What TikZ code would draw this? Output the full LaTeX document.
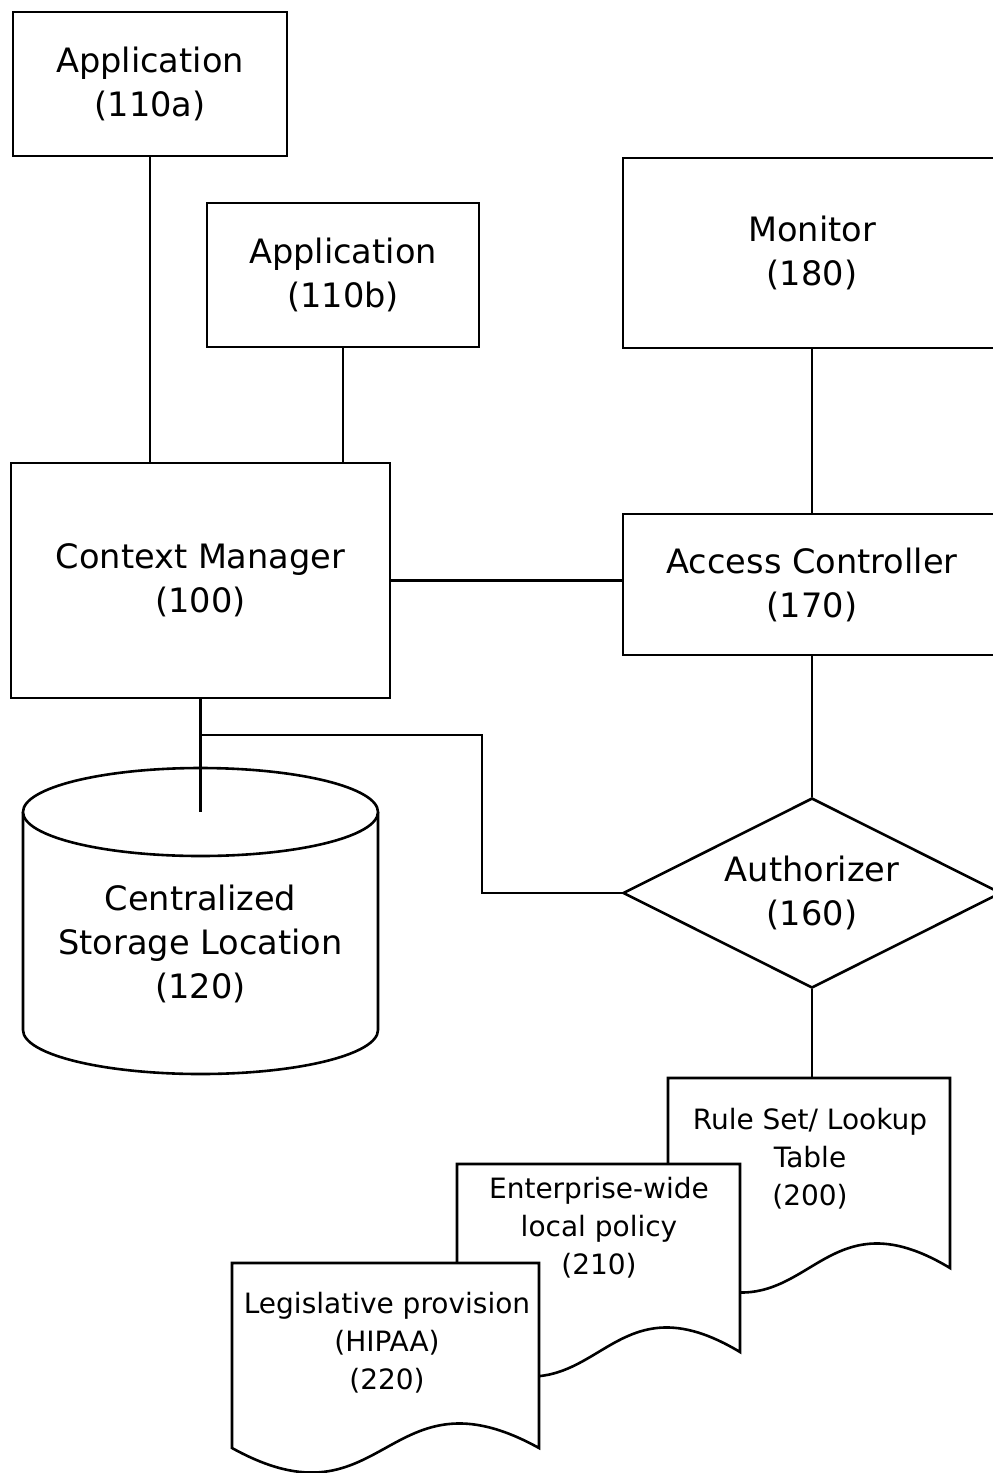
\documentclass[tikz,border=0pt]{standalone}
\usepackage{fontspec}
\setmainfont{DejaVu Sans}
\usetikzlibrary{shapes.geometric}
\newcommand\mybig{\fontsize{33.6}{44}\selectfont}
\newcommand\mysmall{\fontsize{28}{38}\selectfont}
\newcommand\mydoc[4]{\filldraw[fill=white] (#1,#3) -- (#2,#3) -- (#2,#4) .. controls ({(#1+#2)/2},{#4-85}) and ({(#1+#2)/2},{#4+85}) .. (#1,#4) -- cycle;}
\begin{document}
\begin{tikzpicture}[x=1pt,y=-1pt,line width=2.6pt,line join=miter,
  box/.style={draw,fill=white,align=center,inner sep=0pt,font=\mybig},
  doctext/.style={align=center,inner sep=0pt,font=\mysmall},
  plaintext/.style={align=center,inner sep=0pt,font=\mybig}]
\useasboundingbox (0,0) rectangle (993,1473);
\fill[white] (0,0) rectangle (993,1473);
\clip (0,0) rectangle (993,1473);

% boxes
\node[box,minimum width=274,minimum height=144] (a) at (150,84) {Application\\(110a)};
\node[box,minimum width=272,minimum height=144] (b) at (343,275) {Application\\(110b)};
\node[box,minimum width=378,minimum height=190] (mon) at (812,253) {Monitor\\(180)};
\node[box,minimum width=379,minimum height=235] (cm) at (200.5,580.5) {Context Manager\\(100)};
\node[box,minimum width=378,minimum height=141] (ac) at (812,584.5) {Access Controller\\(170)};
\node[box,shape=diamond,aspect=2,minimum width=378,minimum height=190] (auth) at (812,893) {Authorizer\\(160)};

% cylinder
\filldraw[fill=white] (23,812) -- (23,1030) arc[start angle=180,end angle=360,x radius=177.5pt,y radius=44pt] -- (378,812);
\draw[fill=white] (200.5,812) ellipse[x radius=177.5pt,y radius=44pt];
\node[plaintext] (store) at (200.5,944) {Centralized\\Storage Location\\(120)};

% documents
\mydoc{668}{950}{1078}{1268}
\node[doctext] (t200) at (810,1159) {Rule Set/ Lookup\\Table\\(200)};
\mydoc{457}{740}{1164}{1352}
\node[doctext] (t210) at (599,1228) {Enterprise-wide\\local policy\\(210)};
\mydoc{232}{539}{1263}{1448}
\node[doctext] (t220) at (387,1343) {Legislative provision\\(HIPAA)\\(220)};

% connectors
\coordinate (d200) at (812,1078);
\coordinate (cyltop) at (200.5,812);
\coordinate (j) at (200.5,735);
\coordinate (bend) at (482,735);
\draw (a.south) -- (a.south |- cm.north);
\draw (b.south) -- (b.south |- cm.north);
\draw (cm.east) -- (cm.east -| ac.west);
\draw (mon.south) -- (ac.north);
\draw (ac.south) -- (auth.north);
\draw (auth.south) -- (d200);
\draw (cm.south) -- (cyltop);
\draw (j) -- (bend) |- (auth.west);
\end{tikzpicture}
\end{document}
